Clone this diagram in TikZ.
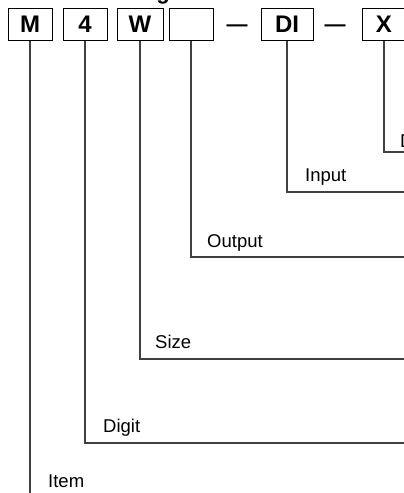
\documentclass[tikz,border=0pt]{standalone}
\usepackage{fontspec}
\setmainfont{Liberation Sans}
\usetikzlibrary{positioning}
\definecolor{leadgray}{rgb}{0.25,0.25,0.25}

\begin{document}
\begin{tikzpicture}[
    x=1pt, y=-1pt,
    codebox/.style={rectangle, draw, line width=1pt, minimum width=44pt, minimum height=32pt, inner sep=0pt, font=\fontsize{24}{24}\selectfont\bfseries},
    sepdash/.style={inner sep=0pt, anchor=base, font=\fontsize{21}{21}\selectfont\bfseries},
    fieldlabel/.style={anchor=base west, inner sep=0pt, font=\fontsize{18.5}{18.5}\selectfont},
    lead/.style={draw=leadgray, line width=1.2pt},
]
\useasboundingbox (0,0) rectangle (404,493);

% === Title (cut off at the top) ===
\node[inner sep=0pt, anchor=base, font=\fontsize{22}{22}\selectfont\bfseries] (title) at (163,-0.5) {g};

% === Code boxes ===
\node[codebox] (item) at (30,24.5) {M};
\node[codebox] (digit) at (85,24.5) {4};
\node[codebox, minimum width=46pt] (size) at (140,24.5) {W};
\node[codebox] (output) at (191,24.5) {};
\node[sepdash] (dasha) at (237,31.5) {---};
\node[codebox, minimum width=52pt] (input) at (287,24.5) {DI};
\node[sepdash] (dashb) at (335,31.5) {---};
\node[codebox] (disp) at (384,24.5) {X};

% === Lead ends at the right / bottom edge ===
\coordinate (itemend) at (30,493);
\coordinate (digitend) at (404,443);
\coordinate (sizeend) at (404,359);
\coordinate (outputend) at (404,257);
\coordinate (inputend) at (404,192);
\coordinate (dispend) at (404,152);

% === Leads ===
\draw[lead] (item.south) -- (itemend);
\draw[lead] (digit.south) |- (digitend);
\draw[lead] (size.south) |- (sizeend);
\draw[lead] (output.south) |- (outputend);
\draw[lead] (input.south) |- (inputend);
\draw[lead] (disp.south) |- (dispend);

% === Field labels ===
\node[fieldlabel] (displbl) at (400,147) {D};
\node[fieldlabel] (inputlbl) at (305,181) {Input};
\node[fieldlabel] (outputlbl) at (207,247) {Output};
\node[fieldlabel] (sizelbl) at (155,348) {Size};
\node[fieldlabel] (digitlbl) at (103,432) {Digit};
\node[fieldlabel] (itemlbl) at (48,487) {Item};

\end{tikzpicture}
\end{document}
